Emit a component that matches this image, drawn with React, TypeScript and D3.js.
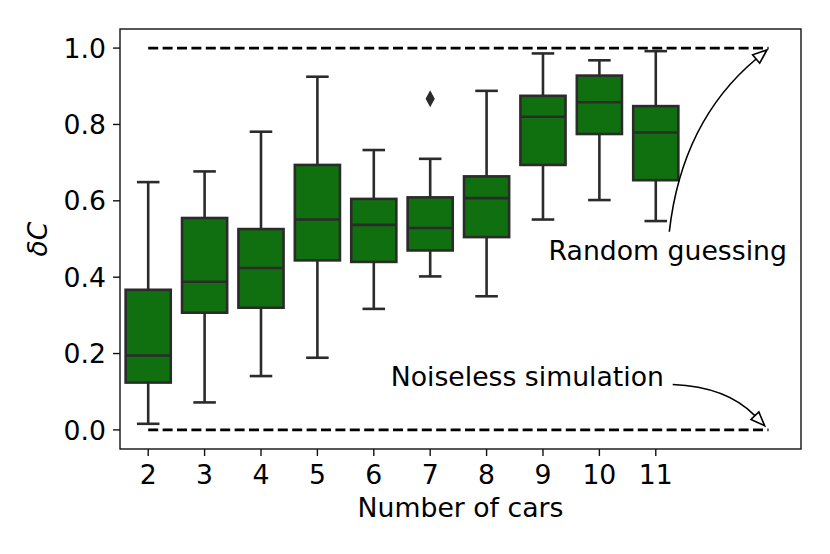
import React from 'react';
import * as d3 from 'd3';

const categories = ['2', '3', '4', '5', '6', '7', '8', '9', '10', '11'];
const whiskerLow = [0.016, 0.072, 0.141, 0.189, 0.317, 0.402, 0.35, 0.551, 0.602, 0.547];
const q1 = [0.124, 0.307, 0.32, 0.444, 0.44, 0.47, 0.505, 0.694, 0.775, 0.654];
const median = [0.195, 0.388, 0.424, 0.551, 0.537, 0.529, 0.607, 0.82, 0.858, 0.779];
const q3 = [0.367, 0.555, 0.526, 0.694, 0.605, 0.609, 0.664, 0.875, 0.928, 0.848];
const whiskerHigh = [0.649, 0.677, 0.781, 0.925, 0.733, 0.71, 0.888, 0.986, 0.968, 0.992];
const outlierCats = ['7'];
const outlierValues = [0.867];
const yTicks = [0, 0.2, 0.4, 0.6, 0.8, 1.0];
const refLines = [
  { x0: 0, x1: 11, y: 1.0 },
  { x0: 0, x1: 11, y: 0.0 },
];
const annotations = [
  { text: 'Random guessing', tx: 7.1, ty: 0.446, sx: 9.24, sy: 0.519, ex: 10.97, ey: 0.995, rad: 0.2 },
  { text: 'Noiseless simulation', tx: 4.3, ty: 0.115, sx: 9.3, sy: 0.119, ex: 10.93, ey: 0.011, rad: 0.2 },
];

const W = 830;
const H = 554;
const L = 120, R = 801, T = 29, B = 449;
const FONT = 'DejaVu Sans, sans-serif';
const FS = 26.7;
const BOX_FILL = '#107010';
const EDGE = '#2b2b2b';

export default function App() {
  const x = d3.scaleLinear().domain([-0.5, 11.575]).range([L, R]);
  const y = d3.scaleLinear().domain([-0.05, 1.05]).range([B, T]);
  const step = x(1) - x(0);
  const bw = step * 0.8;
  const capW = bw / 2;
  const lw = 2.6;

  const arrows = annotations.map((a) => {
    const x1 = x(a.sx), y1 = y(a.sy), x2 = x(a.ex), y2 = y(a.ey);
    const dx = x2 - x1, dy = y2 - y1;
    const mx = (x1 + x2) / 2, my = (y1 + y2) / 2;
    const cx = mx + a.rad * dy;
    const cy = my - a.rad * dx;
    const tx = x2 - cx, ty = y2 - cy;
    const tl = Math.hypot(tx, ty);
    const ux = tx / tl, uy = ty / tl;
    const hl = 14, hw = 5.5;
    const bx = x2 - ux * hl, by = y2 - uy * hl;
    const head = [
      [x2, y2],
      [bx - uy * hw, by + ux * hw],
      [bx + uy * hw, by - ux * hw],
    ];
    const path = d3.path();
    path.moveTo(x1, y1);
    path.quadraticCurveTo(cx, cy, bx, by);
    return { path: path.toString(), head: head.map((p) => p.join(',')).join(' '), a };
  });

  return (
    <svg width={W} height={H} style={{ position: 'absolute', left: 0, top: 0, background: '#fff' }} fontFamily={FONT}>
      <rect x={0} y={0} width={W} height={H} fill="#fff" />
      {refLines.map((r, i) => (
        <line key={'ref' + i} x1={x(r.x0)} x2={x(r.x1)} y1={y(r.y)} y2={y(r.y)} stroke="#000" strokeWidth={2.7} strokeDasharray="10,4.4" />
      ))}
      {categories.map((c, i) => {
        const cx = x(i);
        return (
          <g key={c}>
            <line x1={cx} x2={cx} y1={y(q3[i])} y2={y(whiskerHigh[i])} stroke={EDGE} strokeWidth={lw} />
            <line x1={cx} x2={cx} y1={y(q1[i])} y2={y(whiskerLow[i])} stroke={EDGE} strokeWidth={lw} />
            <line x1={cx - capW / 2} x2={cx + capW / 2} y1={y(whiskerHigh[i])} y2={y(whiskerHigh[i])} stroke={EDGE} strokeWidth={lw} />
            <line x1={cx - capW / 2} x2={cx + capW / 2} y1={y(whiskerLow[i])} y2={y(whiskerLow[i])} stroke={EDGE} strokeWidth={lw} />
            <rect x={cx - bw / 2} y={y(q3[i])} width={bw} height={y(q1[i]) - y(q3[i])} fill={BOX_FILL} stroke={EDGE} strokeWidth={lw} />
            <line x1={cx - bw / 2} x2={cx + bw / 2} y1={y(median[i])} y2={y(median[i])} stroke={EDGE} strokeWidth={lw} />
          </g>
        );
      })}
      {outlierCats.map((c, k) => {
        const cx = x(categories.indexOf(c));
        const cy = y(outlierValues[k]);
        return <polygon key={'o' + k} points={`${cx},${cy - 8.5} ${cx + 4.6},${cy} ${cx},${cy + 8.5} ${cx - 4.6},${cy}`} fill={EDGE} />;
      })}
      {arrows.map((ar, i) => (
        <g key={'ann' + i}>
          <path d={ar.path} fill="none" stroke="#000" strokeWidth={1.6} />
          <polygon points={ar.head} fill="#fff" stroke="#000" strokeWidth={1.6} strokeLinejoin="miter" />
          <text x={x(ar.a.tx)} y={y(ar.a.ty)} fontSize={FS} fill="#000">{ar.a.text}</text>
        </g>
      ))}
      <rect x={L} y={T} width={R - L} height={B - T} fill="none" stroke="#111" strokeWidth={1.4} />
      {yTicks.map((t) => (
        <g key={'yt' + t}>
          <line x1={L - 7} x2={L} y1={y(t)} y2={y(t)} stroke="#111" strokeWidth={1.4} />
          <text x={L - 14} y={y(t)} dy="0.36em" textAnchor="end" fontSize={FS} fill="#000">{d3.format('.1f')(t)}</text>
        </g>
      ))}
      {categories.map((c, i) => (
        <g key={'xt' + c}>
          <line x1={x(i)} x2={x(i)} y1={B} y2={B + 7} stroke="#111" strokeWidth={1.4} />
          <text x={x(i)} y={B + 35} textAnchor="middle" fontSize={FS} fill="#000">{c}</text>
        </g>
      ))}
      <text x={(L + R) / 2} y={517} textAnchor="middle" fontSize={FS} fill="#000">Number of cars</text>
      <text transform={`translate(47,${(T + B) / 2}) rotate(-90)`} textAnchor="middle" fontSize={FS} fontStyle="italic" fill="#000">δC</text>
    </svg>
  );
}
